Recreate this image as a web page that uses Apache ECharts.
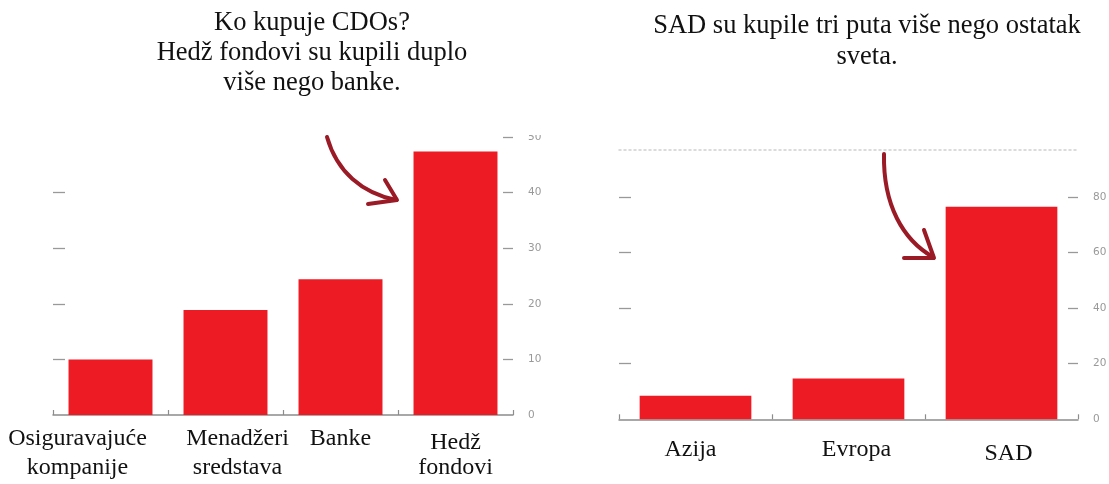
<!DOCTYPE html>
<html><head><meta charset="utf-8">
<script src="https://cdn.jsdelivr.net/npm/echarts@6/dist/echarts.min.js"></script>
<style>html,body{margin:0;padding:0;background:#fff}#c{width:1109px;height:484px}</style>
</head><body><div id="c"></div>
<script>
// ---- data ----
const buyerCategories = ['Osiguravajuće\nkompanije', 'Menadžeri\nsredstava', 'Banke', 'Hedž\nfondovi'];
const buyerValues = [10.0, 18.9, 24.4, 47.4];
const buyerTickLabels = [0, 10, 20, 30, 40, 50];
const buyerTickMarks = [10, 20, 30, 40];
const buyerRightTickMarks = [10, 20, 30, 40, 50];
const regionCategories = ['Azija', 'Evropa', 'SAD'];
const regionValues = [8.5, 14.7, 76.5];
const regionTickLabels = [0, 20, 40, 60, 80];
const regionTickMarks = [20, 40, 60, 80];
const titleLeft = 'Ko kupuje CDOs?\nHedž fondovi su kupili duplo\nviše nego banke.';
const titleRight = 'SAD su kupile tri puta više nego ostatak\nsveta.';

// ---- style ----
const SERIF = '"Liberation Serif", "Times New Roman", serif';
const BAR = '#ec1b24';
const AXIS = '#8c8c8c';
const ARROW = '#9a1a26';
const buyerLabelShift = [[-33, 0], [12, 0], [0, 0], [0, 8]];
const regionLabelShift = [[-5, 0], [8, 0], [7, 7]];

function richFor(shifts) {
  const r = {};
  shifts.forEach((s, i) => {
    const dx = s[0], dy = s[1];
    const base = {fontFamily: SERIF, fontSize: 24, lineHeight: 29, color: '#111'};
    r['f' + i] = Object.assign({}, base, {padding: [dy, dx < 0 ? -2 * dx : 0, 0, dx > 0 ? 2 * dx : 0]});
    r['s' + i] = Object.assign({}, base, {padding: [0, dx < 0 ? -2 * dx : 0, 0, dx > 0 ? 2 * dx : 0]});
  });
  return r;
}
function fmt(value, index) {
  return String(value).split('\n').map((l, k) => '{' + (k === 0 ? 'f' : 's') + index + '|' + l + '}').join('\n');
}

function catAxis(gridIndex, data, margin, shifts) {
  return {
    type: 'category', gridIndex, data,
    axisLine: {show: true, lineStyle: {color: AXIS, width: 1.5}},
    axisTick: {show: true, inside: true, length: 5, lineStyle: {color: AXIS, width: 1.2}},
    axisLabel: {interval: 0, margin, formatter: fmt, rich: richFor(shifts)},
    splitLine: {show: false}
  };
}
function valAxis(gridIndex, position, max, interval, ticks, labels, tickLen) {
  return {
    type: 'value', gridIndex, position, min: 0, max, interval,
    axisLine: {show: false},
    axisTick: {show: true, inside: true, length: tickLen, customValues: ticks, lineStyle: {color: '#999', width: 1.3}},
    axisLabel: labels ? {show: true, customValues: labels, margin: 15, color: '#999', fontSize: 10.5, fontFamily: 'DejaVu Sans'} : {show: false},
    splitLine: {show: false}
  };
}

const chart = echarts.init(document.getElementById('c'), null, {renderer: 'canvas'});
chart.setOption({
  backgroundColor: '#fff',
  animation: false,
  title: [
    {text: titleLeft, left: 312, top: 8, padding: 0, textAlign: 'center',
     textStyle: {fontFamily: SERIF, fontSize: 26.5, fontWeight: 'normal', lineHeight: 30, color: '#111'}},
    {text: titleRight, left: 867, top: 11, padding: 0, textAlign: 'center',
     textStyle: {fontFamily: SERIF, fontSize: 26.5, fontWeight: 'normal', lineHeight: 31, color: '#111'}}
  ],
  grid: [
    {left: 53, top: 137, width: 460, height: 278, containLabel: false, outerBoundsMode: 'none'},
    {left: 619, top: 150, width: 459, height: 269.3, containLabel: false, outerBoundsMode: 'none'}
  ],
  xAxis: [
    catAxis(0, buyerCategories, 9, buyerLabelShift),
    catAxis(1, regionCategories, 16, regionLabelShift),
    {type: 'category', gridIndex: 1, position: 'top', data: regionCategories,
     axisLine: {show: true, onZero: false, lineStyle: {color: '#cfcfcf', width: 1.5, type: [2, 3]}},
     axisTick: {show: false}, axisLabel: {show: false}, splitLine: {show: false}}
  ],
  yAxis: [
    valAxis(0, 'left', 50, 10, buyerTickMarks, null, 12),
    valAxis(0, 'right', 50, 10, buyerRightTickMarks, buyerTickLabels, 10),
    valAxis(1, 'left', 96.9, 20, regionTickMarks, null, 12),
    valAxis(1, 'right', 96.9, 20, regionTickMarks, regionTickLabels, 10)
  ],
  series: [
    {type: 'bar', xAxisIndex: 0, yAxisIndex: 0, data: buyerValues, barCategoryGap: '27%',
     itemStyle: {color: BAR}, emphasis: {disabled: true}},
    {type: 'bar', xAxisIndex: 1, yAxisIndex: 2, data: regionValues, barCategoryGap: '27%',
     itemStyle: {color: BAR}, emphasis: {disabled: true}}
  ],
  graphic: [
    // the reference picture is cropped just above the left plot: hide the upper half of its top tick label
    {type: 'rect', z: 100, shape: {x: 495, y: 100, width: 70, height: 35}, style: {fill: '#fff'}},
    {type: 'bezierCurve', z: 10, shape: {x1: 327, y1: 137, cpx1: 337, cpy1: 172, cpx2: 362, cpy2: 193, x2: 396, y2: 200},
     style: {stroke: ARROW, lineWidth: 4, fill: null, lineCap: 'round'}},
    {type: 'polyline', z: 10, shape: {points: [[385, 180], [397, 200], [368, 204]]},
     style: {stroke: ARROW, lineWidth: 4, fill: null, lineJoin: 'round', lineCap: 'round'}},
    {type: 'bezierCurve', z: 10, shape: {x1: 884, y1: 154, cpx1: 883, cpy1: 205, cpx2: 903, cpy2: 240, x2: 933, y2: 257},
     style: {stroke: ARROW, lineWidth: 4, fill: null, lineCap: 'round'}},
    {type: 'polyline', z: 10, shape: {points: [[924, 230], [934, 258], [904, 258]]},
     style: {stroke: ARROW, lineWidth: 4, fill: null, lineJoin: 'round', lineCap: 'round'}}
  ]
});
</script>
</body></html>
